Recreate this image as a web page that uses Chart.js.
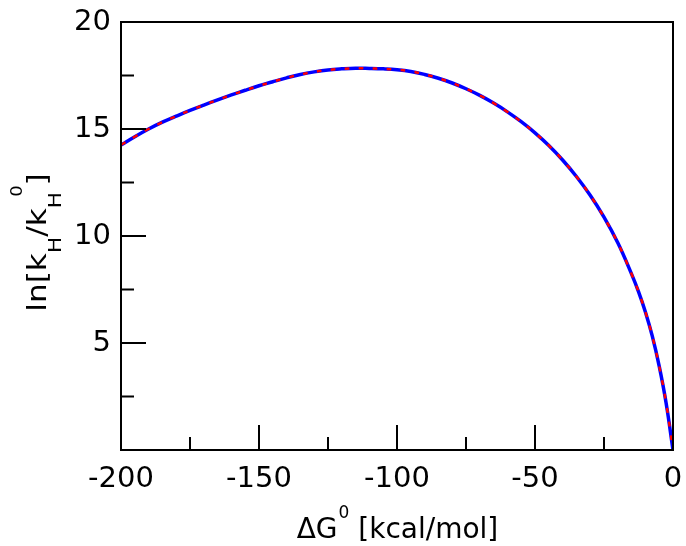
<!DOCTYPE html>
<html>
<head>
<meta charset="utf-8">
<script src="https://cdn.jsdelivr.net/npm/chart.js@4"></script>
<style>
  html, body { margin: 0; padding: 0; background: #fff; }
  canvas { display: block; }
</style>
</head>
<body>
<canvas id="marcus" width="686" height="546"></canvas>
<script>
// Werte
const dG = [-200, -195, -190, -185, -180, -175, -170, -165, -160, -155, -150, -145, -140, -135, -130, -125, -120, -115, -110, -105, -100, -95, -90, -85, -80, -75, -70, -65, -60, -55, -50, -45, -40, -35, -30, -25, -20, -15, -12.5, -10, -7.5, -5, -2.5, 0];
const lnK = [14.25, 14.64, 15.0, 15.32, 15.6, 15.87, 16.12, 16.36, 16.59, 16.81, 17.02, 17.21, 17.39, 17.55, 17.67, 17.76, 17.81, 17.84, 17.83, 17.81, 17.77, 17.69, 17.55, 17.37, 17.15, 16.88, 16.57, 16.21, 15.8, 15.34, 14.82, 14.23, 13.55, 12.78, 11.9, 10.88, 9.68, 8.22, 7.4, 6.45, 5.32, 3.92, 2.2, 0];
const xMajor = [-200, -150, -100, -50, 0];
const xMinor = [-175, -125, -75, -25];
const yMajor = [0, 5, 10, 15, 20];
const yMinor = [2.5, 7.5, 12.5, 17.5];

const points = dG.map(function(x, i) { return { x: x, y: lnK[i] }; });

const FONT = "'DejaVu Sans', sans-serif";

// Rahmen, Ticks nach innen, Achsentitel mit Hoch-/Tiefstellung
const frame = {
  id: 'frame',
  afterDatasetsDraw: function(chart) {
    const ctx = chart.ctx;
    const a = chart.chartArea;
    const xs = chart.scales.x, ys = chart.scales.y;
    ctx.save();
    ctx.strokeStyle = '#000';
    ctx.lineWidth = 2;
    ctx.strokeRect(a.left, a.top, a.right - a.left, a.bottom - a.top);
    ctx.beginPath();
    xMajor.forEach(function(v) { const p = xs.getPixelForValue(v); ctx.moveTo(p, a.bottom); ctx.lineTo(p, a.bottom - 25); });
    xMinor.forEach(function(v) { const p = xs.getPixelForValue(v); ctx.moveTo(p, a.bottom); ctx.lineTo(p, a.bottom - 13); });
    yMajor.forEach(function(v) { const p = ys.getPixelForValue(v); ctx.moveTo(a.left, p); ctx.lineTo(a.left + 25, p); });
    yMinor.forEach(function(v) { const p = ys.getPixelForValue(v); ctx.moveTo(a.left, p); ctx.lineTo(a.left + 13, p); });
    ctx.stroke();

    ctx.fillStyle = '#000';
    ctx.textBaseline = 'alphabetic';
    ctx.textAlign = 'left';

    // x-Titel: ΔG^0 [kcal/mol]
    const big = '28px ' + FONT, sup = '17px ' + FONT;
    ctx.font = big;
    const w1 = ctx.measureText('\u0394G').width;
    const w3 = ctx.measureText(' [kcal/mol]').width;
    ctx.font = sup;
    const w2 = ctx.measureText('0').width;
    let x = (a.left + a.right) / 2 - (w1 + w2 + w3) / 2;
    const base = 538;
    ctx.font = big; ctx.fillText('\u0394G', x, base); x += w1;
    ctx.font = sup; ctx.fillText('0', x + 1, base - 20); x += w2 + 1;
    ctx.font = big; ctx.fillText(' [kcal/mol]', x, base);

    // y-Titel: ln[k_H/k_H^0]
    const parts = [
      { t: 'ln[k', f: '26px ' + FONT, dy: 0, k: 0 },
      { t: 'H', f: '18px ' + FONT, dy: 15, k: 0 },
      { t: '/k', f: '26px ' + FONT, dy: 0, k: 0 },
      { t: 'H', f: '18px ' + FONT, dy: 15, k: -4 },
      { t: '0', f: '15px ' + FONT, dy: -24, k: 0 },
      { t: ']', f: '26px ' + FONT, dy: 0, k: 0 }
    ];
    let total = 0;
    parts.forEach(function(p) { ctx.font = p.f; p.w = ctx.measureText(p.t).width; total += p.w + p.k; });
    ctx.translate(46, 242.5);
    ctx.rotate(-Math.PI / 2);
    ctx.scale(1.2, 1);
    let px = -total / 2;
    parts.forEach(function(p) {
      ctx.font = p.f;
      ctx.fillText(p.t, px, p.dy);
      px += p.w + p.k;
    });
    ctx.restore();
  }
};

new Chart(document.getElementById('marcus').getContext('2d'), {
  type: 'line',
  data: {
    datasets: [
      {
        label: 'rot',
        data: points,
        borderColor: '#ff0000',
        borderWidth: 2.5,
        borderDash: [5, 9],
        pointRadius: 0,
        tension: 0.4,
        fill: false,
        order: 1
      },
      {
        label: 'blau',
        data: points,
        borderColor: '#0000ff',
        borderWidth: 3.5,
        pointRadius: 0,
        tension: 0.4,
        fill: false,
        order: 2
      }
    ]
  },
  options: {
    responsive: false,
    animation: false,
    layout: { padding: { top: 22, right: 13, left: 0, bottom: 0 } },
    scales: {
      x: {
        type: 'linear',
        min: -200,
        max: 0,
        afterFit: function(s) { s.height = 96; s.paddingLeft = 0; s.paddingRight = 0; },
        grid: { display: false, drawTicks: false },
        border: { display: false },
        ticks: {
          stepSize: 50,
          padding: 12,
          color: '#000',
          maxRotation: 0,
          font: { family: FONT, size: 29 }
        }
      },
      y: {
        min: 0,
        max: 20,
        afterFit: function(s) { s.width = 121; s.paddingTop = 0; s.paddingBottom = 0; },
        grid: { display: false, drawTicks: false },
        border: { display: false },
        ticks: {
          stepSize: 5,
          padding: 10,
          color: '#000',
          font: { family: FONT, size: 29 },
          callback: function(v) { return v === 0 ? '' : v; }
        }
      }
    },
    plugins: {
      legend: { display: false },
      tooltip: { enabled: false }
    }
  },
  plugins: [frame]
});
</script>
</body>
</html>
